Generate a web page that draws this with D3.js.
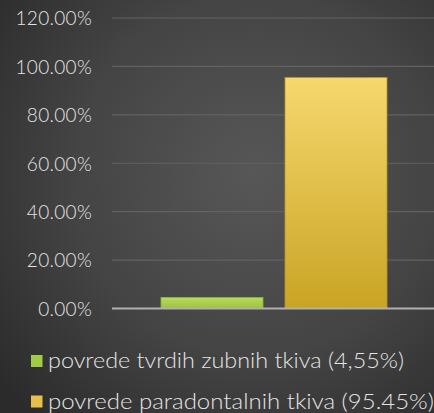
<!DOCTYPE html>
<html>
<head>
<meta charset="utf-8">
<script src="https://cdn.jsdelivr.net/npm/d3@7"></script>
<style>
  html, body { margin: 0; padding: 0; background: #333; }
  svg { display: block; }
</style>
</head>
<body>
<div id="chart"></div>
<script>
// data
var series = ["povrede tvrdih zubnih tkiva (4,55%)", "povrede paradontalnih tkiva (95.45%)"];
var values = [4.55, 95.45];
var yTicks = [0, 20, 40, 60, 80, 100, 120];

var W = 434, H = 413;
var plot = {left: 112, right: 436, top: 18, bottom: 308.5};
var font = "Lato, 'Open Sans', sans-serif";

var svg = d3.select("#chart").append("svg")
    .attr("width", W).attr("height", H)
    .style("font-family", font);

var defs = svg.append("defs");

// background glow
var bg = defs.append("radialGradient").attr("id", "bg")
    .attr("gradientUnits", "userSpaceOnUse")
    .attr("cx", 255).attr("cy", 175).attr("r", 330);
bg.append("stop").attr("offset", "0%").attr("stop-color", "#575757");
bg.append("stop").attr("offset", "55%").attr("stop-color", "#444444");
bg.append("stop").attr("offset", "100%").attr("stop-color", "#2b2b2b");

// bar fills
var fills = [["#b7dc5c", "#9cc23e"], ["#f6d86e", "#c9a424"]];
fills.forEach(function (f, i) {
    var g = defs.append("linearGradient").attr("id", "bar" + i)
        .attr("x1", 0).attr("y1", 0).attr("x2", 0).attr("y2", 1);
    g.append("stop").attr("offset", "0%").attr("stop-color", f[0]);
    g.append("stop").attr("offset", "100%").attr("stop-color", f[1]);
});
var swatch = ["#a2cb45", "#e6c04a"];

svg.append("rect").attr("width", W).attr("height", H).attr("fill", "url(#bg)");

// scales
var y = d3.scaleLinear().domain([0, 120]).range([plot.bottom, plot.top]);
var x = d3.scaleBand().domain(series).range([161, 387]).paddingInner(22 / 124);

// gridlines
svg.append("g").selectAll("line").data(yTicks.slice(1)).join("line")
    .attr("x1", plot.left).attr("x2", plot.right)
    .attr("y1", d => y(d)).attr("y2", d => y(d))
    .attr("stroke", "#626262").attr("stroke-width", 1.2);

// y axis labels
var yAxis = svg.append("g")
    .attr("transform", "translate(92,0)")
    .call(d3.axisLeft(y).tickValues(yTicks).tickSize(0).tickPadding(0)
        .tickFormat(d => d.toFixed(2) + "%"));
yAxis.select(".domain").remove();
yAxis.selectAll("text")
    .attr("fill", "#e4e4e4").attr("font-size", 19)
    .attr("font-family", font).attr("font-weight", 300)
    .attr("letter-spacing", 0.3)
    .attr("dy", "0.36em");

// bars
svg.append("g").selectAll("rect").data(values).join("rect")
    .attr("x", (d, i) => x(series[i]))
    .attr("width", x.bandwidth())
    .attr("y", d => y(d))
    .attr("height", d => y(0) - y(d))
    .attr("fill", (d, i) => "url(#bar" + i + ")")
    .attr("stroke", (d, i) => i ? "#b8961c" : "#8fb53a")
    .attr("stroke-width", 0.8);

// baseline
svg.append("line")
    .attr("x1", plot.left).attr("x2", plot.right)
    .attr("y1", y(0)).attr("y2", y(0))
    .attr("stroke", "#b0b0b0").attr("stroke-width", 2);

// legend
var leg = svg.append("g").selectAll("g").data(series).join("g")
    .attr("transform", (d, i) => "translate(31," + (355 + i * 40.5) + ")");
leg.append("rect").attr("width", 11.5).attr("height", 12)
    .attr("fill", (d, i) => swatch[i]);
leg.append("text")
    .attr("x", 17).attr("y", 13)
    .attr("fill", "#e4e4e4").attr("font-size", 22)
    .attr("font-weight", 300)
    .attr("textLength", (d, i) => i ? 386 : 356)
    .attr("lengthAdjust", "spacingAndGlyphs")
    .text(d => d);
</script>
</body>
</html>
